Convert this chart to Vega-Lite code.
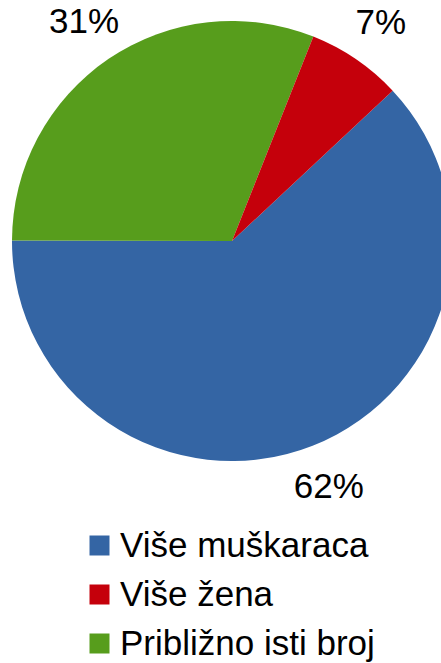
{
  "$schema": "https://vega.github.io/schema/vega-lite/v6.json",
  "width": 418,
  "height": 482,
  "autosize": "none",
  "padding": {"left": 23, "top": 0, "right": 0, "bottom": 181},
  "background": "white",
  "config": {"view": {"stroke": null}, "font": "Liberation Sans"},
  "data": {
    "values": [
      {"category": "Više muškaraca", "value": 62, "label": "62%", "ord": 1},
      {"category": "Približno isti broj", "value": 31, "label": "31%", "ord": 2},
      {"category": "Više žena", "value": 7, "label": "7%", "ord": 3}
    ]
  },
  "encoding": {
    "theta": {"field": "value", "type": "quantitative", "stack": true, "scale": {"range": [0.8186, 7.1018]}},
    "order": {"field": "ord", "type": "quantitative"}
  },
  "layer": [
    {
      "mark": {"type": "arc", "outerRadius": 220, "stroke": null},
      "encoding": {
        "color": {
          "field": "category",
          "type": "nominal",
          "scale": {
            "domain": ["Više muškaraca", "Više žena", "Približno isti broj"],
            "range": ["#3465a4", "#c5000b", "#579d1c"]
          },
          "legend": {
            "orient": "none",
            "legendX": 59,
            "legendY": 528,
            "title": null,
            "symbolType": "square",
            "symbolSize": 400,
            "symbolStrokeWidth": 0,
            "labelFontSize": 35,
            "labelFont": "Liberation Sans",
            "labelColor": "black",
            "labelOffset": 3,
            "rowPadding": 13,
            "padding": 0,
            "labelLimit": 400
          }
        }
      }
    },
    {
      "mark": {"type": "text", "radius": 264, "fontSize": 35, "font": "Liberation Sans", "color": "black", "align": "center", "baseline": "middle"},
      "encoding": {
        "text": {"field": "label", "type": "nominal"}
      }
    }
  ]
}
